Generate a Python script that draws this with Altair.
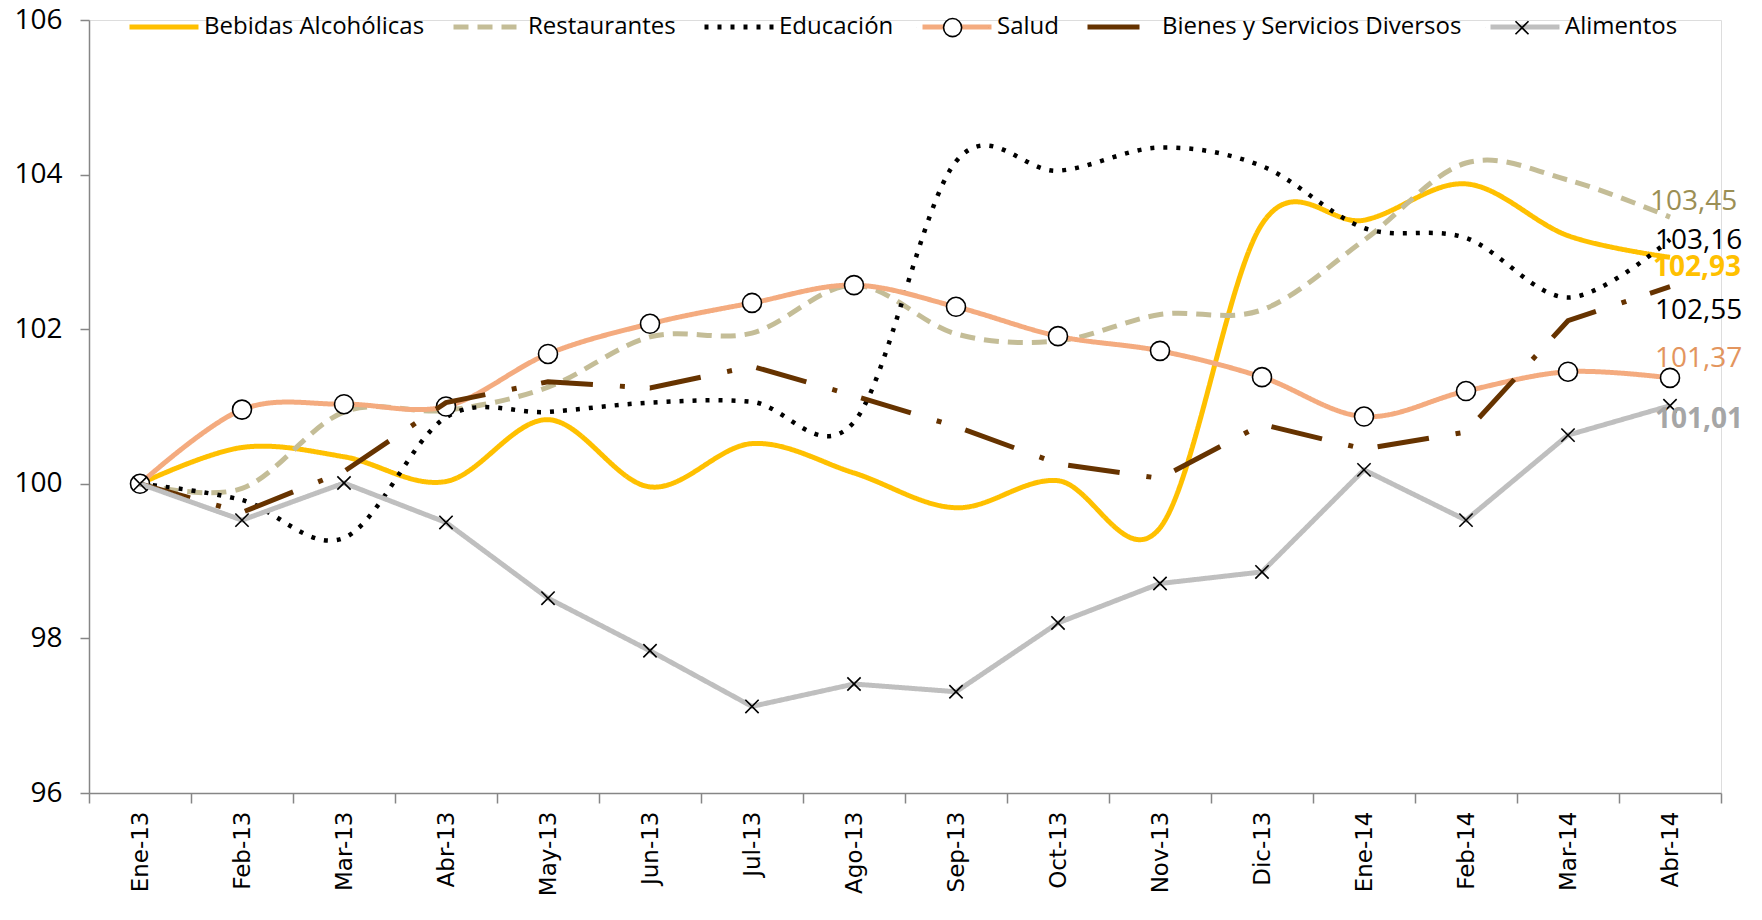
import altair as alt
import pandas as pd

months = ["Ene-13", "Feb-13", "Mar-13", "Abr-13", "May-13", "Jun-13", "Jul-13", "Ago-13",
          "Sep-13", "Oct-13", "Nov-13", "Dic-13", "Ene-14", "Feb-14", "Mar-14", "Abr-14"]

series_names = ["Bebidas Alcohólicas", "Restaurantes", "Educación", "Salud",
                "Bienes y Servicios Diversos", "Alimentos"]

bebidas = [100.00, 100.47, 100.35, 100.03, 100.83, 99.96, 100.52, 100.14,
           99.69, 100.04, 99.43, 103.36, 103.41, 103.88, 103.21, 102.93]
restaurantes = [100.00, 99.94, 100.93, 100.95, 101.25, 101.90, 101.95, 102.57,
                101.94, 101.85, 102.19, 102.25, 103.15, 104.15, 103.93, 103.45]
educacion = [100.00, 99.79, 99.30, 100.86, 100.93, 101.05, 101.06, 100.80,
             104.17, 104.05, 104.35, 104.11, 103.31, 103.18, 102.41, 103.16]
salud = [100.00, 100.96, 101.03, 101.00, 101.68, 102.07, 102.34, 102.57,
         102.29, 101.91, 101.72, 101.38, 100.87, 101.20, 101.45, 101.37]
bienes = [100.00, 99.63, 100.16, 101.05, 101.32, 101.24, 101.52, 101.14,
          100.74, 100.26, 100.07, 100.77, 100.45, 100.67, 102.11, 102.55]
alimentos = [100.00, 99.53, 100.01, 99.50, 98.52, 97.84, 97.12, 97.41,
             97.31, 98.20, 98.71, 98.86, 100.18, 99.53, 100.63, 101.01]

all_values = [bebidas, restaurantes, educacion, salud, bienes, alimentos]

ZW = "\u200b"  # keeps the marker legend separate from the line legend
rows = []
for name, vals in zip(series_names, all_values):
    for m, v in zip(months, vals):
        rows.append({"mes": m, "serie": name, "serie2": name + ZW, "valor": v,
                     "etiqueta": f"{v:.2f}".replace(".", ",")})
df = pd.DataFrame(rows)

colors = ["#FFC000", "#C4BD97", "#000000", "#F4AB7F", "#663300", "#BFBFBF"]
dashes = [[1, 0], [15, 9], [4, 9], [1, 0], [52, 27, 5, 25], [1, 0]]

# legend-marker shapes (unit paths; every one spans -1..1 horizontally so entries align)
EMPTY = "M-1,0L1,0"
CIRCLE_L = ("M-1,0L-0.999,0M1,0L0.999,0"
            "M0.25,0A0.25,0.25,0,1,1,-0.25,0A0.25,0.25,0,1,1,0.25,0Z")
CROSS_L = "M-1,0L-0.999,0M1,0L0.999,0M-0.18,-0.18L0.18,0.18M-0.18,0.18L0.18,-0.18"
legend_shapes = [EMPTY, EMPTY, EMPTY, CIRCLE_L, EMPTY, CROSS_L]
legend_strokes = ["transparent", "transparent", "transparent", "black", "transparent", "black"]

CROSS = "M-0.7,-0.7L0.7,0.7M-0.7,0.7L0.7,-0.7"

FONT = "Open Sans"

x_enc = alt.X("mes:N", sort=months,
              scale=alt.Scale(type="band", paddingInner=0, paddingOuter=0),
              axis=alt.Axis(title=None, labelAngle=270, tickBand="extent",
                            labelFont="DejaVu Sans", labelFontSize=23, labelColor="black",
                            domainColor="#868686", tickColor="#868686",
                            domainWidth=1.5, tickWidth=1.5, tickSize=10, labelPadding=8))
y_enc = alt.Y("valor:Q", scale=alt.Scale(domain=[96, 106], nice=False, zero=False),
              axis=alt.Axis(title=None, values=[96, 98, 100, 102, 104, 106], format="d",
                            grid=False, labelFont=FONT, labelFontSize=28, labelColor="black",
                            domainColor="#868686", tickColor="#868686",
                            domainWidth=1.5, tickWidth=1.5, tickSize=9, labelPadding=18))

LX, LY = 38, -30
legend1 = alt.Legend(orient="none", legendX=LX, legendY=LY, direction="horizontal",
                     title=None, symbolType="stroke", symbolSize=4761, symbolStrokeWidth=5,
                     labelFont=FONT, labelFontSize=24, labelColor="black", labelOffset=3,
                     columnPadding=18, padding=0, labelLimit=500, zindex=1)
legend2 = alt.Legend(orient="none", legendX=31, legendY=LY, direction="horizontal",
                     title=None, symbolSize=5242, symbolStrokeWidth=1.6,
                     symbolFillColor="white", symbolOpacity=1,
                     labelFont=FONT, labelFontSize=24, labelOpacity=0, labelOffset=3,
                     columnPadding=23.7, padding=0, labelLimit=500, zindex=3)

color_enc = alt.Color("serie:N", scale=alt.Scale(domain=series_names, range=colors),
                      legend=legend1)
dash_enc = alt.StrokeDash("serie:N", scale=alt.Scale(domain=series_names, range=dashes),
                          legend=legend1)
dom2 = [n + ZW for n in series_names]
shape_enc = alt.Shape("serie2:N", scale=alt.Scale(domain=dom2, range=legend_shapes),
                      legend=legend2)
stroke_enc = alt.Stroke("serie2:N", scale=alt.Scale(domain=dom2, range=legend_strokes),
                        legend=legend2)

base = alt.Chart(df)

smooth = {"Bebidas Alcohólicas", "Restaurantes", "Educación", "Salud"}

layers = []
for name in series_names:
    interp = "cardinal" if name in smooth else "linear"
    line = base.transform_filter(alt.datum.serie == name).mark_line(
        interpolate=interp, strokeWidth=5 if name != "Educación" else 4.5
    ).encode(x=x_enc, y=y_enc, color=color_enc, strokeDash=dash_enc)
    layers.append(line)
    if name == "Salud":
        layers.append(base.transform_filter(alt.datum.serie == name).mark_point(
            shape="circle", filled=False, fill="white", fillOpacity=1, stroke="black",
            strokeWidth=1.6, size=361, opacity=1).encode(x=x_enc, y=y_enc))
    if name == "Alimentos":
        layers.append(base.transform_filter(alt.datum.serie == name).mark_point(
            shape=CROSS, filled=False, stroke="black",
            strokeWidth=1.6, size=361, opacity=1).encode(x=x_enc, y=y_enc))

# legend-only layer for the marker symbols (no rows drawn in the plot)
layers.append(base.transform_filter(alt.datum.valor < 0).mark_point(
    filled=False, fill="white", strokeWidth=1.6, opacity=1
).encode(x=x_enc, y=y_enc, shape=shape_enc, stroke=stroke_enc))

label_styles = {
    "Restaurantes": dict(color="#9B8F55", dx=-20, dy=-15, fontWeight="normal"),
    "Educación": dict(color="#000000", dx=-15, dy=1, fontWeight="normal"),
    "Bebidas Alcohólicas": dict(color="#FFC000", dx=-17, dy=11, fontWeight="bold"),
    "Bienes y Servicios Diversos": dict(color="#000000", dx=-15, dy=24, fontWeight="normal"),
    "Salud": dict(color="#E3955E", dx=-15, dy=-19, fontWeight="normal"),
    "Alimentos": dict(color="#A6A6A6", dx=-15, dy=14, fontWeight="bold"),
}
for name, st in label_styles.items():
    txt = base.transform_filter(
        (alt.datum.serie == name) & (alt.datum.mes == months[-1])
    ).mark_text(align="left", baseline="middle", font=FONT, fontSize=28, **st).encode(
        x=x_enc, y=y_enc, text="etiqueta:N")
    layers.append(txt)

chart = alt.layer(*layers).properties(
    width=1632, height=773,
    autosize=alt.AutoSizeParams(type="none"),
    padding={"left": 81, "top": 12, "right": 25, "bottom": 115},
).configure_view(stroke=None).configure(background="white")

chart.save("out.html", embed_options={"renderer": "svg", "actions": False})
